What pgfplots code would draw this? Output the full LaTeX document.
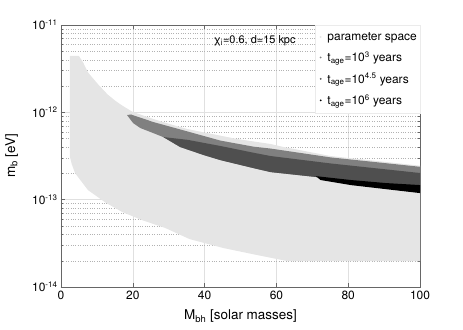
\documentclass[border=0pt]{standalone}
\usepackage{fontspec}
\setmainfont{TeX Gyre Heros}
\usepackage{pgfplots}
\pgfplotsset{compat=1.18}

\definecolor{pspace}{gray}{0.90}
\definecolor{tthree}{gray}{0.50}
\definecolor{tfour}{gray}{0.31}

\begin{document}
\begin{tikzpicture}
% fix the page to the reference frame (axis box is 359 x 262)
\path[use as bounding box] (-61bp,-43bp) rectangle (402bp,287bp);
\begin{axis}[
  at={(0,0)}, anchor=south west,
  scale only axis,
  width=359bp, height=262bp,
  xmin=0, xmax=100,
  ymode=log, ymin=1e-14, ymax=1e-11,
  xtick={0,20,...,100},
  ytick={1e-14,1e-13,1e-12,1e-11},
  yticklabels={10\textsuperscript{-14},10\textsuperscript{-13},10\textsuperscript{-12},10\textsuperscript{-11}},
  /pgf/number format/assume math mode=true,
  tick label style={font=\fontsize{12}{14}\selectfont},
  tick align=inside,
  major tick length=4bp, minor tick length=2bp,
  every tick/.style={black!60},
  axis line style={black!60},
  xmajorgrids, ymajorgrids, yminorgrids,
  major grid style={black!12},
  minor grid style={black!30, dotted},
  xlabel={M\textsubscript{bh} [solar masses]},
  ylabel={m\textsubscript{b} [eV]},
  label style={font=\fontsize{13.5}{15}\selectfont},
  xlabel style={at={(0.5,-0.075)}, anchor=north},
  ylabel style={at={(-0.11,0.5)}, anchor=south},
  legend style={at={(1,1)}, anchor=north east, draw=black!8, fill=white,
    font=\fontsize{12}{14}\selectfont, row sep=6bp, inner xsep=1bp, inner ysep=5bp},
  legend image code/.code={\path[draw=none, fill=none] (0cm,0cm) -- (0.32cm,0cm); \fill[#1, draw=none] (0.15cm,0cm) circle (1pt);},
  legend cell align=left,
]
% parameter space
\addplot[fill=pspace, draw=none, forget plot] coordinates {
(2.5,3.08e-13) (2.5,4.42e-12) (5.0,4.42e-12) (6.2,3.7e-12) (7.5,2.87e-12)
(10.3,2.10e-12) (13.0,1.60e-12) (15.1,1.36e-12) (17.0,1.20e-12) (19.8,1.02e-12)
(21.6,9.6e-13) (25.7,8.4e-13) (30.0,7.4e-13) (35.2,6.44e-13)
(49.2,4.94e-13) (58.4,4.34e-13) (62.0,4.01e-13) (75.1,3.16e-13) (100,2.45e-13)
(100,1.98e-14) (63.1,1.98e-14) (54.7,2.32e-14) (45.3,2.79e-14) (35.8,3.54e-14)
(29.1,4.73e-14) (22.6,5.83e-14) (17.0,7.24e-14) (12.3,9.33e-14) (7.5,1.29e-13)
(3.9,2.02e-13) (3.0,2.55e-13)
} -- cycle;
% t_age = 10^3
\addplot[fill=tthree, draw=none, forget plot] coordinates {
(18.4,9.31e-13) (19.5,9.45e-13) (25.7,7.75e-13) (35.2,6.05e-13) (44.4,4.75e-13)
(53.6,4.05e-13) (58.4,3.85e-13) (75.1,3.05e-13) (100,2.38e-13)
(100,1.25e-13) (90.5,1.43e-13) (80.7,1.59e-13) (71.0,1.82e-13) (58.4,2.07e-13)
(53.6,2.30e-13) (44.4,2.84e-13) (39.7,3.25e-13) (33.2,4.01e-13) (28.5,5.21e-13)
(25.7,5.79e-13) (22.1,6.61e-13) (20.1,7.53e-13)
} -- cycle;
% t_age = 10^4.5
\addplot[fill=tfour, draw=none, forget plot] coordinates {
(28.5,5.21e-13) (35.2,4.85e-13) (44.4,4.12e-13) (53.6,3.45e-13) (58.4,3.16e-13)
(75.1,2.60e-13) (100,2.02e-13)
(100,1.25e-13) (90.5,1.43e-13) (80.7,1.59e-13) (71.0,1.82e-13) (58.4,2.07e-13)
(53.6,2.30e-13) (44.4,2.84e-13) (39.7,3.25e-13) (33.2,4.01e-13)
} -- cycle;
% t_age = 10^6
\addplot[fill=black, draw=none, forget plot] coordinates {
(71.0,1.86e-13) (80.7,1.68e-13) (90.5,1.55e-13) (100,1.47e-13)
(100,1.19e-13) (90.5,1.32e-13) (80.7,1.47e-13) (72.3,1.68e-13)
} -- cycle;

\addlegendimage{pspace}
\addlegendentry{parameter space}
\addlegendimage{tthree}
\addlegendentry{t\textsubscript{age}=10\textsuperscript{3} years}
\addlegendimage{tfour}
\addlegendentry{t\textsubscript{age}=10\textsuperscript{4.5} years}
\addlegendimage{black}
\addlegendentry{t\textsubscript{age}=10\textsuperscript{6} years}

\node[anchor=west, font=\fontsize{11}{13}\selectfont, inner sep=0pt]
  at (axis cs:42.5,6.6e-12) {χ\textsubscript{i}=0.6, d=15 kpc};
\end{axis}
\end{tikzpicture}
\end{document}
